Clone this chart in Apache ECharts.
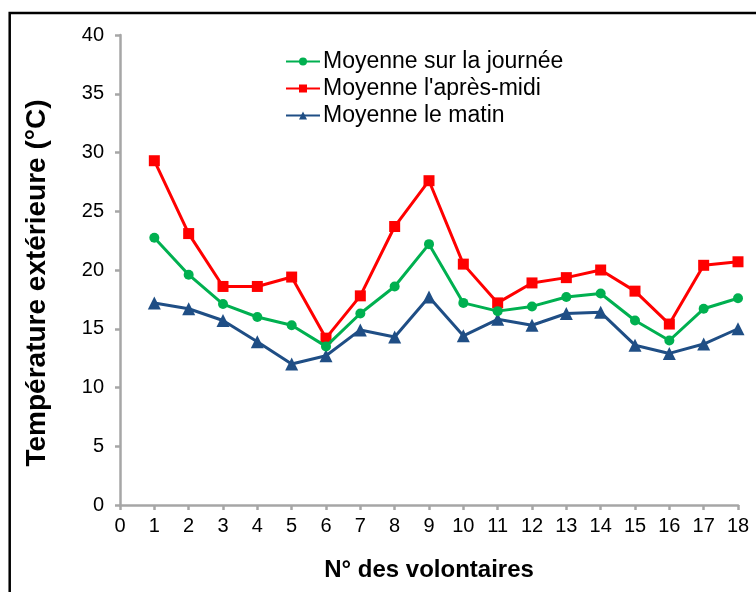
<!DOCTYPE html>
<html>
<head>
<meta charset="utf-8">
<script src="https://cdn.jsdelivr.net/npm/echarts@6/dist/echarts.min.js"></script>
<style>
  html, body { margin: 0; padding: 0; background: #fff; }
  #chart { width: 756px; height: 592px; }
</style>
</head>
<body>
<div id="chart"></div>
<script>
// Volunteer numbers (x) and mean outdoor temperatures (°C)
const volunteers = [1, 2, 3, 4, 5, 6, 7, 8, 9, 10, 11, 12, 13, 14, 15, 16, 17, 18];
const dayMean = [22.75, 19.6, 17.1, 16.0, 15.3, 13.5, 16.3, 18.6, 22.2, 17.2, 16.5, 16.9, 17.7, 18.0, 15.7, 14.0, 16.7, 17.6];
const afternoonMean = [29.3, 23.1, 18.6, 18.6, 19.4, 14.2, 17.8, 23.7, 27.6, 20.5, 17.2, 18.9, 19.35, 20.0, 18.2, 15.4, 20.4, 20.7];
const morningMean = [17.2, 16.7, 15.7, 13.9, 12.0, 12.7, 14.9, 14.3, 17.7, 14.4, 15.8, 15.3, 16.3, 16.4, 13.6, 12.9, 13.7, 15.0];
const seriesNames = ['Moyenne sur la journée', "Moyenne l'après-midi", 'Moyenne le matin'];
const xAxisTitle = 'N° des volontaires';
const yAxisTitle = 'Température extérieure (°C)';

const pairs = vals => volunteers.map((v, i) => [v, vals[i]]);
const FONT = '"Liberation Sans", Arial, sans-serif';
const axisGray = '#A6A6A6';

const chart = echarts.init(document.getElementById('chart'), null, { renderer: 'canvas' });

chart.setOption({
  backgroundColor: '#fff',
  animation: false,
  textStyle: { fontFamily: FONT, color: '#000' },
  grid: { left: 120, right: 18, top: 35, bottom: 87, containLabel: false },
  legend: {
    orient: 'vertical',
    left: 285,
    top: 50,
    padding: 0,
    itemWidth: 34,
    itemHeight: 10,
    itemGap: 4,
    textStyle: { fontFamily: FONT, fontSize: 23, color: '#000', padding: [0, 0, 0, -2] },
    data: seriesNames
  },
  xAxis: {
    type: 'value',
    min: 0,
    max: 18,
    interval: 1,
    name: xAxisTitle,
    nameLocation: 'middle',
    nameGap: 53,
    nameTextStyle: { fontFamily: FONT, fontSize: 24, fontWeight: 'bold', color: '#000' },
    axisLine: { show: true, lineStyle: { color: axisGray, width: 2.5 } },
    axisTick: { show: true, inside: false, length: 5, lineStyle: { color: axisGray, width: 2.5 } },
    axisLabel: { margin: 11, fontFamily: FONT, fontSize: 20, color: '#000' },
    splitLine: { show: false }
  },
  yAxis: {
    type: 'value',
    min: 0,
    max: 40,
    interval: 5,
    name: yAxisTitle,
    nameLocation: 'middle',
    nameGap: 69,
    nameRotate: 90,
    nameTextStyle: { fontFamily: FONT, fontSize: 28, fontWeight: 'bold', color: '#000', padding: [0, 26, 0, 0] },
    axisLine: { show: true, lineStyle: { color: axisGray, width: 2.5 } },
    axisTick: { show: true, inside: false, length: 5, lineStyle: { color: axisGray, width: 2.5 } },
    axisLabel: { margin: 16, fontFamily: FONT, fontSize: 20, color: '#000' },
    splitLine: { show: false }
  },
  series: [
    {
      name: seriesNames[2],
      type: 'line',
      data: pairs(morningMean),
      symbol: 'triangle',
      symbolSize: 13,
      color: '#1F4E85',
      lineStyle: { width: 3 },
      z: 2
    },
    {
      name: seriesNames[1],
      type: 'line',
      data: pairs(afternoonMean),
      symbol: 'rect',
      symbolSize: 11,
      color: '#FF0000',
      lineStyle: { width: 3 },
      z: 3
    },
    {
      name: seriesNames[0],
      type: 'line',
      data: pairs(dayMean),
      symbol: 'circle',
      symbolSize: 10,
      color: '#00B050',
      lineStyle: { width: 3 },
      z: 4
    }
  ],
  graphic: [
    {
      type: 'rect',
      silent: true,
      shape: { x: 9.7, y: 13, width: 800, height: 700 },
      style: { fill: 'none', stroke: '#000', lineWidth: 2.5 }
    }
  ]
});
</script>
</body>
</html>
